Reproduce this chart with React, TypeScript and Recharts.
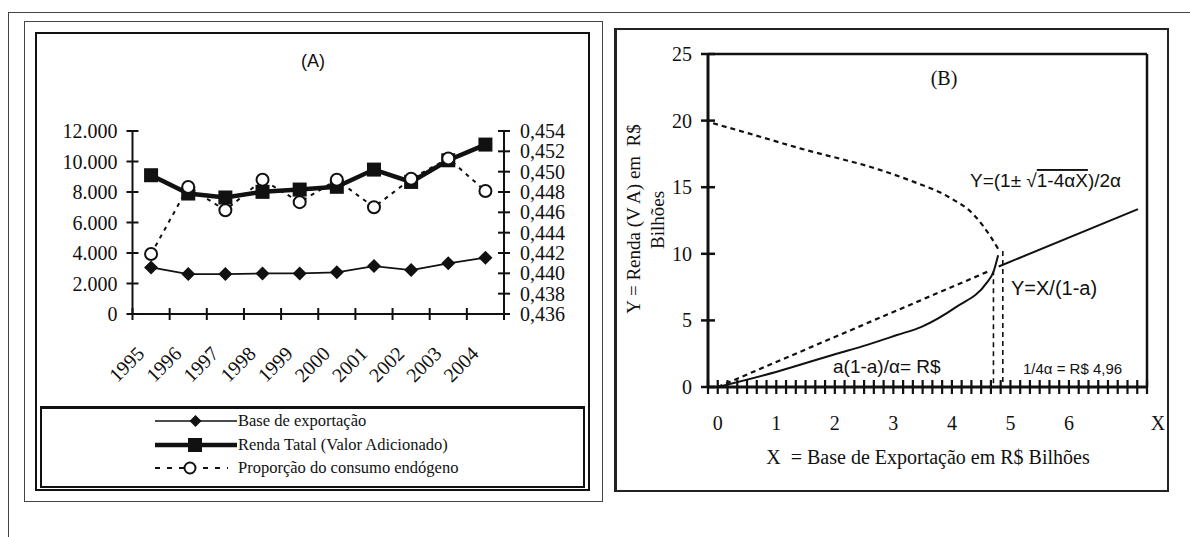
import React from 'react';
import { LineChart, Line, XAxis, YAxis, ReferenceLine } from 'recharts';

// ---- Panel A data
const years = ['1995', '1996', '1997', '1998', '1999', '2000', '2001', '2002', '2003', '2004'];
const baseExport = [3050, 2620, 2620, 2660, 2660, 2730, 3140, 2880, 3320, 3690];
const rendaTotal = [9100, 7900, 7640, 8010, 8160, 8340, 9470, 8660, 10080, 11110];
const propConsumo = [0.4419, 0.4485, 0.4462, 0.4492, 0.447, 0.4492, 0.4465, 0.4493, 0.4513, 0.4481];
const leftTicksA = [0, 2000, 4000, 6000, 8000, 10000, 12000];
const rightTicksA = [0.436, 0.438, 0.44, 0.442, 0.444, 0.446, 0.448, 0.45, 0.452, 0.454];

// ---- Panel B data
const upperBranchX = [-0.08, 0.56, 1.42, 2.77, 3.35, 3.93, 4.38, 4.66, 4.8];
const upperBranchY = [19.8, 19.0, 17.9, 16.3, 15.4, 14.3, 12.9, 11.3, 10.3];
const lowerBranchX = [0, 1.01, 2.03, 2.48, 3.06, 3.48, 4.07, 4.59, 4.71, 4.79];
const lowerBranchY = [0, 1.15, 2.5, 3.07, 3.9, 4.52, 6.0, 7.8, 8.65, 9.9];
const rayX = [0, 4.66];
const rayY = [0, 8.75];
const outerLineX = [4.8, 7.18];
const outerLineY = [9.05, 13.35];
const leftDropX = [4.71, 4.71];
const leftDropY = [-0.4, 8.7];
const rightDropX = [4.87, 4.87];
const rightDropY = [-0.3, 10.4];
const yTicksB = [0, 5, 10, 15, 20, 25];
const xLabelsB = [0, 1, 2, 3, 4, 5, 6];

const serif = '"Liberation Serif", "Times New Roman", serif';
const sans = '"Liberation Sans", Arial, sans-serif';
const ink = '#111';

const tableA = years.map((year, i) => ({
  slot: i + 0.5,
  year,
  base: baseExport[i],
  renda: rendaTotal[i],
  prop: propConsumo[i],
}));

const zip = (xs: number[], ys: number[]) => xs.map((x, i) => ({ x, y: ys[i] }));

// category borders (integers) and centres (halves)
const slotTicks = Array.from({ length: 21 }, (_, i) => i / 2);
// minor ticks on the X axis of panel B, one every 1/6
const minorTicksB = Array.from({ length: 46 }, (_, k) => (k - 1) / 6);

const fmtThousands = (v: number) => String(v).replace(/\B(?=(\d{3})+(?!\d))/g, '.');
const fmtComma = (v: number) => v.toFixed(3).replace('.', ',');

const LeftTickA = (p: any) => (
  <g>
    <line x1={p.x - 6} x2={p.x + 6} y1={p.y} y2={p.y} stroke={ink} strokeWidth={2} />
    <text x={p.x - 15} y={p.y} dy={7} textAnchor="end" fontFamily={serif} fontSize={20} fill={ink}>
      {fmtThousands(p.payload.value)}
    </text>
  </g>
);

const RightTickA = (p: any) => (
  <g>
    <line x1={p.x - 6} x2={p.x + 6} y1={p.y} y2={p.y} stroke={ink} strokeWidth={2} />
    <text x={p.x + 16} y={p.y} dy={7} textAnchor="start" fontFamily={serif} fontSize={20} fill={ink}>
      {fmtComma(p.payload.value)}
    </text>
  </g>
);

const XTickA = (p: any) => {
  const v = p.payload.value;
  if (Number.isInteger(v)) {
    return <line x1={p.x} x2={p.x} y1={p.y - 6} y2={p.y + 6} stroke={ink} strokeWidth={2} />;
  }
  const lx = p.x - 5.5;
  const ly = p.y + 41;
  return (
    <text x={lx} y={ly} transform={`rotate(-45 ${lx} ${ly})`} textAnchor="end" fontFamily={serif} fontSize={20} fill={ink}>
      {years[Math.floor(v)]}
    </text>
  );
};

const LeftTickB = (p: any) => (
  <g>
    <line x1={p.x - 7} x2={p.x + 7} y1={p.y} y2={p.y} stroke={ink} strokeWidth={2.5} />
    <text x={p.x - 16} y={p.y} dy={7} textAnchor="end" fontFamily={serif} fontSize={20} fill={ink}>
      {p.payload.value}
    </text>
  </g>
);

const XTickB = (p: any) => {
  const v = p.payload.value;
  const label = xLabelsB.find((n) => Math.abs(n - v) < 1e-6);
  return (
    <g>
      <line x1={p.x} x2={p.x} y1={p.y - 7} y2={p.y + 7} stroke={ink} strokeWidth={2.2} />
      {label !== undefined && (
        <text x={p.x} y={p.y + 43} textAnchor="middle" fontFamily={serif} fontSize={20} fill={ink}>
          {label}
        </text>
      )}
    </g>
  );
};

const diamondDot = (p: any) => (
  <polygon
    key={`dm${p.index}`}
    points={`${p.cx},${p.cy - 7} ${p.cx + 7},${p.cy} ${p.cx},${p.cy + 7} ${p.cx - 7},${p.cy}`}
    fill={ink}
  />
);
const squareDot = (p: any) => <rect key={`sq${p.index}`} x={p.cx - 7} y={p.cy - 7} width={14} height={14} fill={ink} />;
const circleDot = (p: any) => (
  <circle key={`ci${p.index}`} cx={p.cx} cy={p.cy} r={6} fill="#fff" stroke={ink} strokeWidth={2} />
);

const box = (left: number, top: number, width: number, height: number, border: string, extra: any = {}) => (
  <div style={{ position: 'absolute', left, top, width, height, border, boxSizing: 'border-box', ...extra }} />
);

export default function App() {
  return (
    <div style={{ position: 'absolute', left: 0, top: 0, width: 1190, height: 537, background: '#fff', overflow: 'hidden' }}>
      {/* outer frame */}
      <div style={{ position: 'absolute', left: 8, top: 12, width: 1200, height: 600, borderTop: '1.5px solid #444', borderLeft: '1.5px solid #444' }} />
      {box(24, 21, 579, 481, '1px solid #444')}
      {box(35, 32, 555, 459, '2px solid #111')}
      {box(40, 406, 545, 82, '2px solid #111', { borderTop: '3px solid #111' })}
      {box(614, 28, 555, 464, '2px solid #222', { borderLeft: '3px solid #222' })}

      {/* Panel A */}
      <div style={{ position: 'absolute', left: 35, top: 32 }}>
        <LineChart width={555} height={375} data={tableA} margin={{ top: 99, right: 26, left: 37.5, bottom: 33 }}>
          <XAxis
            dataKey="slot"
            type="number"
            domain={[0, 10]}
            ticks={slotTicks}
            interval={0}
            height={60}
            tickSize={0}
            tickMargin={0}
            tickLine={false}
            axisLine={{ stroke: ink, strokeWidth: 2 }}
            tick={XTickA}
          />
          <YAxis
            yAxisId="left"
            domain={[0, 12000]}
            ticks={leftTicksA}
            interval={0}
            width={60}
            tickSize={0}
            tickMargin={0}
            tickLine={false}
            axisLine={{ stroke: ink, strokeWidth: 2 }}
            tick={LeftTickA}
          />
          <YAxis
            yAxisId="right"
            orientation="right"
            domain={[0.436, 0.454]}
            ticks={rightTicksA}
            interval={0}
            width={60}
            tickSize={0}
            tickMargin={0}
            tickLine={false}
            axisLine={{ stroke: ink, strokeWidth: 2 }}
            tick={RightTickA}
          />
          <Line yAxisId="left" type="linear" dataKey="base" stroke={ink} strokeWidth={1.8} dot={diamondDot} isAnimationActive={false} />
          <Line yAxisId="left" type="linear" dataKey="renda" stroke={ink} strokeWidth={4.5} dot={squareDot} isAnimationActive={false} />
          <Line
            yAxisId="right"
            type="linear"
            dataKey="prop"
            stroke={ink}
            strokeWidth={2}
            strokeDasharray="4 5"
            dot={circleDot}
            isAnimationActive={false}
          />
        </LineChart>
      </div>

      {/* Panel B */}
      <div style={{ position: 'absolute', left: 614, top: 28 }}>
        <LineChart width={555} height={464} margin={{ top: 26, right: 22, left: 34, bottom: 55 }}>
          <XAxis
            dataKey="x"
            type="number"
            domain={[-1 / 6, 44 / 6]}
            ticks={minorTicksB}
            interval={0}
            height={50}
            tickSize={0}
            tickMargin={0}
            tickLine={false}
            axisLine={{ stroke: ink, strokeWidth: 3 }}
            tick={XTickB}
            allowDataOverflow
          />
          <YAxis
            dataKey="y"
            domain={[0, 25]}
            ticks={yTicksB}
            interval={0}
            width={60}
            tickSize={0}
            tickMargin={0}
            tickLine={false}
            axisLine={{ stroke: ink, strokeWidth: 3 }}
            tick={LeftTickB}
            allowDataOverflow
          />
          <ReferenceLine y={25} stroke={ink} strokeWidth={2.5} />
          <ReferenceLine x={44 / 6} stroke={ink} strokeWidth={2.5} />
          <Line data={zip(upperBranchX, upperBranchY)} dataKey="y" type="monotone" stroke={ink} strokeWidth={2.2} strokeDasharray="5 4" dot={false} isAnimationActive={false} />
          <Line data={zip(rayX, rayY)} dataKey="y" type="linear" stroke={ink} strokeWidth={2.2} strokeDasharray="5 4" dot={false} isAnimationActive={false} />
          <Line data={zip(leftDropX, leftDropY)} dataKey="y" type="linear" stroke={ink} strokeWidth={1.6} strokeDasharray="5 4" dot={false} isAnimationActive={false} />
          <Line data={zip(rightDropX, rightDropY)} dataKey="y" type="linear" stroke={ink} strokeWidth={1.6} strokeDasharray="5 4" dot={false} isAnimationActive={false} />
          <Line data={zip(lowerBranchX, lowerBranchY)} dataKey="y" type="monotone" stroke={ink} strokeWidth={2} dot={false} isAnimationActive={false} />
          <Line data={zip(outerLineX, outerLineY)} dataKey="y" type="linear" stroke={ink} strokeWidth={2} dot={false} isAnimationActive={false} />
        </LineChart>
      </div>

      {/* texts and legend */}
      <svg width={1190} height={537} style={{ position: 'absolute', left: 0, top: 0, pointerEvents: 'none' }}>
        <text x={313} y={67} textAnchor="middle" fontFamily={sans} fontSize={18} fill={ink}>(A)</text>

        <line x1={155} x2={237} y1={421} y2={421} stroke={ink} strokeWidth={1.5} />
        <polygon points="195.5,415 201.5,421 195.5,427 189.5,421" fill={ink} />
        <text x={238} y={426} fontFamily={serif} fontSize={16.5} fill={ink}>Base de exportação</text>

        <line x1={155} x2={237} y1={445} y2={445} stroke={ink} strokeWidth={4.5} />
        <rect x={188} y={438} width={14} height={14} fill={ink} />
        <text x={238} y={450} fontFamily={serif} fontSize={16.5} fill={ink}>Renda Tatal (Valor Adicionado)</text>

        <line x1={155} x2={228} y1={468} y2={468} stroke={ink} strokeWidth={2} strokeDasharray="5 7" />
        <circle cx={190} cy={468} r={5.5} fill="#fff" stroke={ink} strokeWidth={2} />
        <text x={238} y={473} fontFamily={serif} fontSize={16.5} fill={ink}>Proporção do consumo endógeno</text>

        <text x={944} y={85} textAnchor="middle" fontFamily={serif} fontSize={20} fill={ink}>(B)</text>
        <text x={970} y={187} fontFamily={sans} fontSize={19} fill={ink}>
          Y=(1± √<tspan style={{ textDecoration: 'overline' }}>1-4αX</tspan>)/2α
        </text>
        <text x={1011} y={295} fontFamily={sans} fontSize={20} fill={ink}>Y=X/(1-a)</text>
        <text x={833} y={373} fontFamily={sans} fontSize={19} fill={ink}>a(1-a)/α= R$</text>
        <text x={1023} y={374} fontFamily={sans} fontSize={15} fill={ink}>1/4α = R$ 4,96</text>
        <text x={1158} y={430} textAnchor="middle" fontFamily={serif} fontSize={20} fill={ink}>X</text>
        <text x={928} y={464} textAnchor="middle" fontFamily={serif} fontSize={20} fill={ink} style={{ whiteSpace: 'pre' }}>
          X  = Base de Exportação em R$ Bilhões
        </text>
        <text transform="translate(640 219) rotate(-90)" textAnchor="middle" fontFamily={serif} fontSize={19} fill={ink} style={{ whiteSpace: 'pre' }}>
          Y = Renda (V A) em  R$
        </text>
        <text transform="translate(664 220) rotate(-90)" textAnchor="middle" fontFamily={serif} fontSize={19} fill={ink}>
          Bilhões
        </text>
      </svg>
    </div>
  );
}
